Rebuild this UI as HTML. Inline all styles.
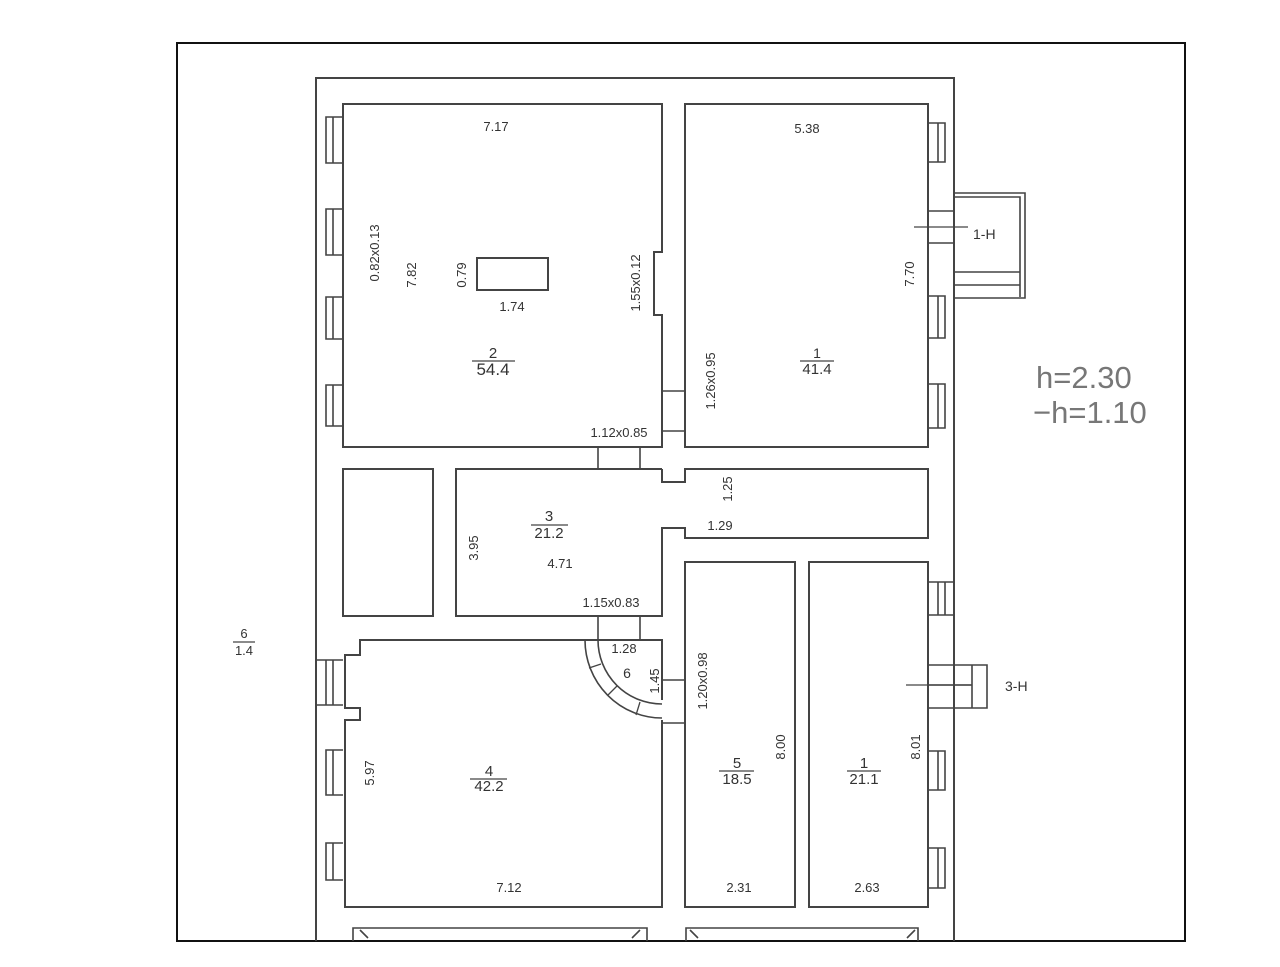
<!DOCTYPE html>
<html><head><meta charset="utf-8"><style>
html,body{margin:0;padding:0;background:#fff}
svg{display:block}
text{font-family:"Liberation Sans",sans-serif}
</style></head><body>
<svg width="1280" height="967" viewBox="0 0 1280 967" xmlns="http://www.w3.org/2000/svg">
<g fill="none" stroke="#444" stroke-width="2">
<rect x="177" y="43" width="1008" height="898" stroke="#111"/>
<polyline points="316,941 316,78 954,78 954,941"/>
<polyline points="662,391 662,447 343,447 343,104 662,104 662,252 654,252 654,315 662,315 662,391"/>
<rect x="477" y="258" width="71" height="32"/>
<g stroke-width="1.6">
<path d="M343,117 H326 V163 H343 M333,117 V163"/>
<path d="M343,209 H326 V255 H343 M333,209 V255"/>
<path d="M343,297 H326 V339 H343 M333,297 V339"/>
<path d="M343,385 H326 V426 H343 M333,385 V426"/>
</g>
<path d="M662,391 H685 M662,431 H685" stroke-width="1.6"/>
<path d="M598,447 V469 M640,447 V469" stroke-width="1.6"/>
<rect x="685" y="104" width="243" height="343"/>
<g stroke-width="1.6">
<path d="M928,123 H945 V162 H928 M938,123 V162"/>
<path d="M928,296 H945 V338 H928 M938,296 V338"/>
<path d="M928,384 H945 V428 H928 M938,384 V428"/>
<path d="M928,211 H954 M928,243 H954"/>
<path d="M954,193 H1025 V298 H954 M954,197 H1020 V297 M954,272 H1020 M954,285 H1020"/>
<path d="M914,227 H968" stroke-width="1.2"/>
</g>
<rect x="343" y="469" width="90" height="147"/>
<polyline points="662,469 456,469 456,616 662,616 662,528 685,528 685,538 928,538 928,469 685,469 685,482 662,482 662,469"/>
<path d="M598,616 V640 M640,616 V640" stroke-width="1.6"/>
<polyline points="662,700 662,640 585,640"/>
<polyline points="585,640 360,640 360,655 345,655 345,708 360,708 360,720 345,720 345,907 662,907 662,720"/>
<path d="M598,640 A64,64 0 0 0 662,704" stroke-width="1.6"/>
<path d="M585,640 A77,78 0 0 0 662,718" stroke-width="1.6"/>
<path d="M589,668 L601,664 M608,695 L617,686 M636,715 L640,702" stroke-width="1.3"/>
<path d="M662,680 H685 M662,723 H685" stroke-width="1.6"/>
<g stroke-width="1.6">
<path d="M316,660 H343 M316,705 H343 M326,660 V705 M333,660 V705"/>
<path d="M343,750 H326 V795 H343 M333,750 V795"/>
<path d="M343,843 H326 V880 H343 M333,843 V880"/>
</g>
<rect x="685" y="562" width="110" height="345"/>
<rect x="809" y="562" width="119" height="345"/>
<g stroke-width="1.6">
<path d="M928,582 H954 M928,615 H954 M938,582 V615 M945,582 V615"/>
<path d="M928,751 H945 V790 H928 M938,751 V790"/>
<path d="M928,848 H945 V888 H928 M938,848 V888"/>
<path d="M928,665 H987 V708 H928 M928,685 H972 M972,665 V708 M954,665 V708"/>
<path d="M906,685 H972" stroke-width="1.2"/>
</g>
<g stroke-width="1.6">
<path d="M353,941 V928 H647 V941 M360,930 L368,938 M640,930 L632,938"/>
<path d="M686,941 V928 H918 V941 M690,930 L698,938 M915,930 L907,938"/>
</g>
<g stroke-width="1.2">
<path d="M472,361 H515 M800,361 H834 M531,525 H568 M470,779 H507 M719,771 H754 M847,771 H881 M233,642 H255"/>
</g>
</g>
<g fill="#333" font-size="13">
<text x="496" y="131" text-anchor="middle">7.17</text>
<text x="807" y="133" text-anchor="middle">5.38</text>
<text x="512" y="311" text-anchor="middle">1.74</text>
<text transform="translate(379,253) rotate(-90)" text-anchor="middle">0.82x0.13</text>
<text transform="translate(416,275) rotate(-90)" text-anchor="middle">7.82</text>
<text transform="translate(466,275) rotate(-90)" text-anchor="middle">0.79</text>
<text transform="translate(640,283) rotate(-90)" text-anchor="middle">1.55x0.12</text>
<text transform="translate(715,381) rotate(-90)" text-anchor="middle">1.26x0.95</text>
<text transform="translate(914,274) rotate(-90)" text-anchor="middle">7.70</text>
<text x="493" y="358" text-anchor="middle" font-size="15">2</text>
<text x="493" y="375" text-anchor="middle" font-size="17">54.4</text>
<text x="817" y="358" text-anchor="middle" font-size="14">1</text>
<text x="817" y="374" text-anchor="middle" font-size="15">41.4</text>
<text x="619" y="437" text-anchor="middle">1.12x0.85</text>
<text x="973" y="239" font-size="14">1-H</text>
<text transform="translate(732,489) rotate(-90)" text-anchor="middle">1.25</text>
<text x="720" y="530" text-anchor="middle">1.29</text>
<text x="549" y="521" text-anchor="middle" font-size="15">3</text>
<text x="549" y="538" text-anchor="middle" font-size="15">21.2</text>
<text transform="translate(478,548) rotate(-90)" text-anchor="middle">3.95</text>
<text x="560" y="568" text-anchor="middle">4.71</text>
<text x="611" y="607" text-anchor="middle">1.15x0.83</text>
<text x="624" y="653" text-anchor="middle">1.28</text>
<text x="627" y="678" text-anchor="middle" font-size="14">6</text>
<text transform="translate(659,681) rotate(-90)" text-anchor="middle">1.45</text>
<text transform="translate(707,681) rotate(-90)" text-anchor="middle">1.20x0.98</text>
<text transform="translate(785,747) rotate(-90)" text-anchor="middle">8.00</text>
<text transform="translate(920,747) rotate(-90)" text-anchor="middle">8.01</text>
<text transform="translate(374,773) rotate(-90)" text-anchor="middle">5.97</text>
<text x="1005" y="691" font-size="14">3-H</text>
<text x="489" y="776" text-anchor="middle" font-size="15">4</text>
<text x="489" y="791" text-anchor="middle" font-size="15">42.2</text>
<text x="737" y="768" text-anchor="middle" font-size="15">5</text>
<text x="737" y="784" text-anchor="middle" font-size="15">18.5</text>
<text x="864" y="768" text-anchor="middle" font-size="15">1</text>
<text x="864" y="784" text-anchor="middle" font-size="15">21.1</text>
<text x="509" y="892" text-anchor="middle">7.12</text>
<text x="739" y="892" text-anchor="middle">2.31</text>
<text x="867" y="892" text-anchor="middle">2.63</text>
<text x="244" y="638" text-anchor="middle">6</text>
<text x="244" y="655" text-anchor="middle">1.4</text>
<text x="1036" y="388" font-size="31" fill="#777">h=2.30</text>
<text x="1033" y="423" font-size="31" fill="#777">−h=1.10</text>
</g>
</svg>
</body></html>
